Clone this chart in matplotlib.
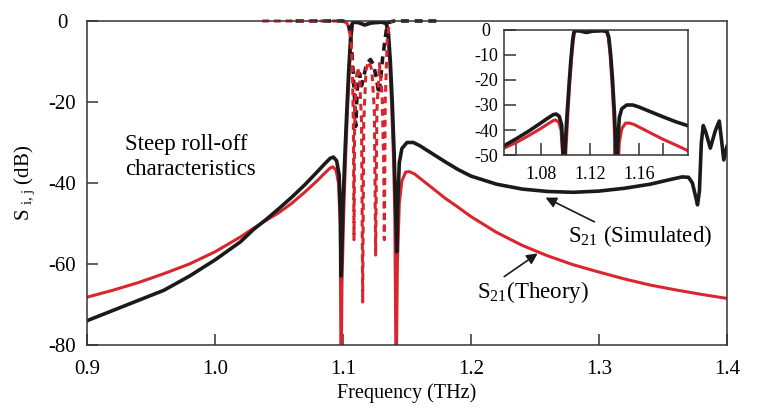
import matplotlib
matplotlib.use('Agg')
import matplotlib.pyplot as plt

# S21 simulated (black solid)
freq_sim_s21 = [0.90, 0.92, 0.94, 0.96, 0.98, 1.00, 1.02, 1.03, 1.04, 1.05,
                1.06, 1.07, 1.08, 1.085, 1.09, 1.0925, 1.095, 1.097, 1.098, 1.0985,
                1.099, 1.100, 1.1015, 1.103, 1.1045, 1.106, 1.107, 1.108, 1.112, 1.117,
                1.122, 1.130, 1.134, 1.1355, 1.137, 1.1385, 1.140, 1.141, 1.142, 1.1428,
                1.144, 1.146, 1.150, 1.155, 1.160, 1.170, 1.180, 1.190, 1.200, 1.220,
                1.240, 1.260, 1.280, 1.300, 1.320, 1.340, 1.355, 1.365, 1.370, 1.373,
                1.376, 1.377, 1.3785, 1.380, 1.3815, 1.3835, 1.387, 1.391, 1.394, 1.396,
                1.3975, 1.400]
db_sim_s21 = [-74.0, -71.5, -69.0, -66.5, -63.0, -59.0, -54.5, -51.5, -49.0, -46.3,
              -43.5, -40.5, -37.2, -35.5, -33.9, -33.6, -34.5, -38.0, -48.0, -63.0,
              -58.0, -45.0, -33.0, -22.0, -12.0, -4.0, -0.8, -0.3, -0.4, -1.0,
              -0.5, -0.3, -0.6, -3.0, -10.0, -20.0, -33.0, -45.0, -57.0, -45.0,
              -35.0, -31.5, -30.0, -30.0, -30.8, -32.8, -34.8, -36.7, -38.3, -40.3,
              -41.5, -42.1, -42.3, -42.0, -41.3, -40.3, -39.2, -38.5, -38.6, -40.0,
              -44.0, -45.4, -42.0, -30.0, -25.8, -27.5, -31.4, -27.0, -24.7, -30.0,
              -34.3, -31.0]

# S21 theory (red solid)
freq_th_s21 = [0.90, 0.92, 0.94, 0.96, 0.98, 1.00, 1.02, 1.03, 1.04, 1.05,
               1.06, 1.07, 1.08, 1.085, 1.09, 1.092, 1.0945, 1.0965, 1.0978, 1.0985,
               1.0992, 1.1005, 1.102, 1.1035, 1.105, 1.1065, 1.1075, 1.1085, 1.112, 1.117,
               1.122, 1.130, 1.1335, 1.135, 1.1365, 1.138, 1.1395, 1.1405, 1.1415, 1.1425,
               1.144, 1.146, 1.149, 1.152, 1.156, 1.160, 1.170, 1.180, 1.190, 1.200,
               1.220, 1.240, 1.260, 1.280, 1.300, 1.320, 1.340, 1.360, 1.380, 1.400]
db_th_s21 = [-68.2, -66.5, -64.6, -62.4, -60.0, -57.0, -53.3, -51.2, -49.2, -47.3,
             -45.0, -42.3, -39.4, -37.8, -36.3, -36.0, -36.8, -40.0, -50.0, -90.0,
             -65.0, -48.0, -34.0, -22.0, -12.0, -4.0, -0.8, -0.2, -0.3, -0.9,
             -0.4, -0.2, -0.6, -3.0, -10.0, -21.0, -34.0, -48.0, -90.0, -60.0,
             -45.0, -39.5, -37.3, -37.2, -37.8, -38.8, -41.3, -43.8, -46.0, -48.3,
             -52.2, -55.4, -58.0, -60.2, -62.0, -63.7, -65.2, -66.4, -67.5, -68.5]

# S11 simulated (black dashed)
freq_sim_s11 = [1.063, 1.080, 1.100, 1.104, 1.1055, 1.107, 1.108, 1.109, 1.110, 1.1107,
                1.1115, 1.113, 1.1145, 1.116, 1.1185, 1.1215, 1.124, 1.126, 1.128, 1.1295,
                1.131, 1.1325, 1.134, 1.136, 1.140, 1.173]
db_sim_s11 = [0.0, 0.0, 0.0, -0.5, -3.0, -8.0, -13.0, -19.0, -26.0, -20.0,
              -15.0, -13.0, -16.0, -14.0, -10.5, -9.5, -11.0, -14.0, -18.0, -14.0,
              -9.0, -5.5, -2.0, -0.3, 0.0, 0.0]

# S11 theory (red dashed)
freq_th_s11 = [1.037, 1.060, 1.080, 1.095, 1.100, 1.103, 1.105, 1.1065, 1.1075, 1.1082,
               1.1086, 1.109, 1.110, 1.1115, 1.113, 1.1145, 1.1154, 1.1162, 1.118, 1.120,
               1.1225, 1.1245, 1.1255, 1.1265, 1.1285, 1.1305, 1.1318, 1.1323, 1.133, 1.1345,
               1.136, 1.138]
db_th_s11 = [0.0, 0.0, 0.0, 0.0, -0.1, -0.5, -2.0, -6.0, -14.0, -28.0,
             -54.0, -28.0, -15.0, -11.5, -14.0, -25.0, -69.4, -25.0, -12.0, -10.0,
             -12.0, -22.0, -57.8, -22.0, -10.5, -18.0, -35.0, -54.0, -20.0, -5.0,
             -1.0, 0.0]

main_xticks = [0.9, 1.0, 1.1, 1.2, 1.3, 1.4]
main_yticks = [-80, -60, -40, -20, 0]
inset_xticks = [1.08, 1.12, 1.16]
inset_xminor = [1.06, 1.10, 1.14, 1.18]
inset_yticks = [-50, -40, -30, -20, -10, 0]

RED = '#d8262e'
BLACK = '#1a1a1a'
SPINE = '#333333'

plt.rcParams['font.family'] = ['Liberation Serif', 'DejaVu Serif']
plt.rcParams['mathtext.default'] = 'regular'


def draw_curves(ax, dashed=True):
    ax.plot(freq_th_s21, db_th_s21, color=RED, lw=2.2)
    ax.plot(freq_sim_s21, db_sim_s21, color=BLACK, lw=2.6)
    if dashed:
        ax.plot(freq_sim_s11, db_sim_s11, color=BLACK, lw=2.6,
                dashes=(2.2, 1.6), clip_on=False)
        ax.plot(freq_th_s11, db_th_s11, color=RED, lw=2.2,
                dashes=(2.2, 1.6), clip_on=False)


def style_axes(ax, length):
    for sp in ax.spines.values():
        sp.set_color(SPINE)
        sp.set_linewidth(1.1)
    ax.tick_params(which='both', direction='in', length=length, width=1.1,
                   color=SPINE, top=False, right=False)


fig = plt.figure(figsize=(7.62, 4.09), dpi=100)
ax = fig.add_axes([0.1142, 0.1565, 0.8398, 0.7922])
draw_curves(ax)
ax.set_xlim(0.9, 1.4)
ax.set_ylim(-80, 0)
ax.set_xticks(main_xticks)
ax.set_xticklabels([f'{v:.1f}' for v in main_xticks], fontsize=15)
ax.set_yticks(main_yticks)
ax.set_yticklabels([str(v) for v in main_yticks], fontsize=15, ha='center')
style_axes(ax, 8)
ax.tick_params(axis='x', pad=11)
ax.tick_params(axis='y', pad=18)
ax.set_xlabel('Frequency (THz)', fontsize=14.5, labelpad=3)
ax.set_ylabel('S$_{\\ i,j}$ (dB)', fontsize=15, labelpad=8)

ax.text(0.9297, -27.8, 'Steep roll-off\ncharacteristics', fontsize=16.5,
        va='top', ha='left', linespacing=1.3)

ax.annotate('', xy=(1.2563, -43.3), xytext=(1.2984, -49.9),
            arrowprops=dict(arrowstyle='-|>', color=BLACK, lw=1.2, mutation_scale=16))
ax.text(1.2758, -54.6, 'S$_{21}$ (Simulated)', fontsize=16.5, va='baseline')
ax.annotate('', xy=(1.2539, -57.0), xytext=(1.2242, -63.5),
            arrowprops=dict(arrowstyle='-|>', color=BLACK, lw=1.2, mutation_scale=16))
ax.text(1.2047, -68.4, 'S$_{21}$(Theory)', fontsize=16.5, va='baseline')

ins = fig.add_axes([0.6614, 0.621, 0.2415, 0.3057])
draw_curves(ins, dashed=False)
ins.set_xlim(1.05, 1.20)
ins.set_ylim(-50, 0)
ins.set_xticks(inset_xticks)
ins.set_xticklabels([f'{v:.2f}' for v in inset_xticks], fontsize=13)
ins.set_xticks(inset_xminor, minor=True)
ins.set_yticks(inset_yticks)
ins.set_yticklabels([str(v) for v in inset_yticks], fontsize=13, ha='center')
style_axes(ins, 8.5)
ins.tick_params(axis='x', pad=8)
ins.tick_params(axis='y', pad=13)

fig.savefig('out.png', dpi=100)
